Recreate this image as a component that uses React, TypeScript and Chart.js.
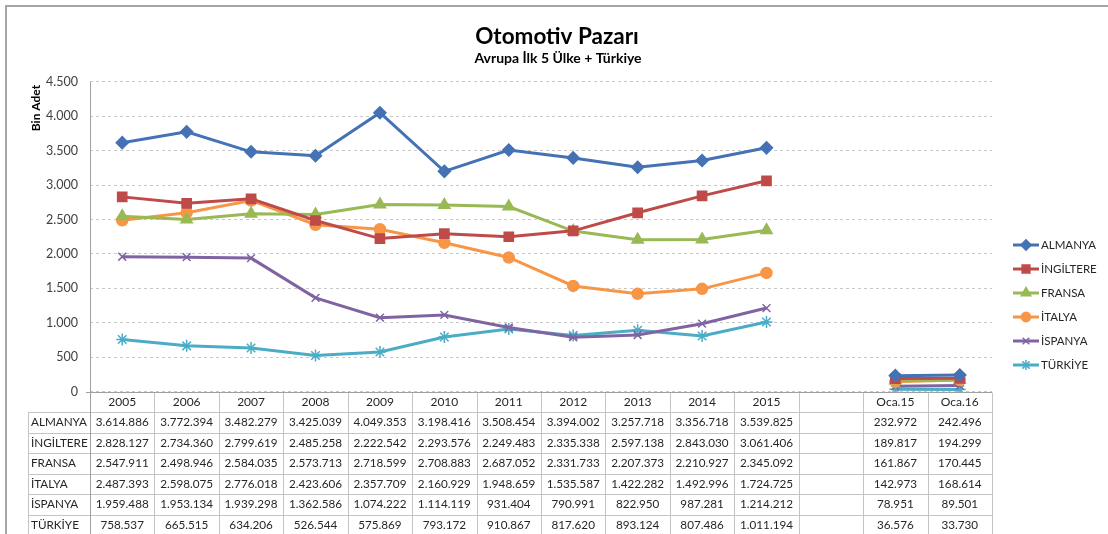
import { useEffect, useRef } from "react";
import { Chart, registerables } from "chart.js";
import { drawPoint } from "chart.js/helpers";

Chart.register(...registerables);

const categories = ["2005", "2006", "2007", "2008", "2009", "2010", "2011", "2012", "2013", "2014", "2015", "", "Oca.15", "Oca.16"];

const almanya = [3614.886, 3772.394, 3482.279, 3425.039, 4049.353, 3198.416, 3508.454, 3394.002, 3257.718, 3356.718, 3539.825, null, 232.972, 242.496];
const ingiltere = [2828.127, 2734.36, 2799.619, 2485.258, 2222.542, 2293.576, 2249.483, 2335.338, 2597.138, 2843.03, 3061.406, null, 189.817, 194.299];
const fransa = [2547.911, 2498.946, 2584.035, 2573.713, 2718.599, 2708.883, 2687.052, 2331.733, 2207.373, 2210.927, 2345.092, null, 161.867, 170.445];
const italya = [2487.393, 2598.075, 2776.018, 2423.606, 2357.709, 2160.929, 1948.659, 1535.587, 1422.282, 1492.996, 1724.725, null, 142.973, 168.614];
const ispanya = [1959.488, 1953.134, 1939.298, 1362.586, 1074.222, 1114.119, 931.404, 790.991, 822.95, 987.281, 1214.212, null, 78.951, 89.501];
const turkiye = [758.537, 665.515, 634.206, 526.544, 575.869, 793.172, 910.867, 817.62, 893.124, 807.486, 1011.194, null, 36.576, 33.73];

const seriesNames = ["ALMANYA", "İNGİLTERE", "FRANSA", "İTALYA", "İSPANYA", "TÜRKİYE"];
const seriesValues = [almanya, ingiltere, fransa, italya, ispanya, turkiye];
const seriesColors = ["#4472B4", "#BE4B48", "#98B954", "#F79646", "#8064A2", "#4BACC6"];
const seriesMarkers = ["rectRot", "rect", "triangle", "circle", "crossRot", "star"];
const markerSizes = [6, 6.5, 6.5, 5.5, 5.5, 6];

const titleText = "Otomotiv Pazarı";
const subtitleText = "Avrupa İlk 5 Ülke + Türkiye";
const yAxisTitle = "Bin Adet";

const FONT = "Lato, 'Open Sans', sans-serif";

function fmtThousands(n: number): string {
  return Math.round(n).toString().replace(/\B(?=(\d{3})+(?!\d))/g, ".");
}
function fmtValue(v: number): string {
  return fmtThousands(v * 1000);
}

const decorPlugin = {
  id: "decor",
  afterDraw(chart: any) {
    const ctx = chart.ctx as CanvasRenderingContext2D;
    const area = chart.chartArea;
    const xs = chart.scales.x;
    const n = categories.length;
    const colW = (xs.right - xs.left) / n;
    const px = (v: number) => Math.round(v) + 0.5;

    ctx.save();
    // outer frame
    ctx.strokeStyle = "#a6a6a6";
    ctx.lineWidth = 2;
    ctx.beginPath();
    ctx.moveTo(6, 534);
    ctx.lineTo(6, 6);
    ctx.lineTo(1108, 6);
    ctx.stroke();

    // titles
    ctx.fillStyle = "#000000";
    ctx.textAlign = "center";
    ctx.textBaseline = "middle";
    ctx.font = `bold 22.5px ${FONT}`;
    ctx.fillText(titleText, 557, 37);
    ctx.font = `bold 14px ${FONT}`;
    ctx.fillText(subtitleText, 558, 58);

    // y axis title
    ctx.save();
    ctx.translate(36, 108);
    ctx.rotate(-Math.PI / 2);
    ctx.font = `bold 12px ${FONT}`;
    ctx.fillText(yAxisTitle, 0, 0);
    ctx.restore();

    // data table
    const top = area.bottom;
    const headerH = 20.3;
    const rowH = 20.5;
    const labelLeft = 28;
    const bottom = top + headerH + seriesNames.length * rowH;

    ctx.strokeStyle = "#c4c4c4";
    ctx.lineWidth = 1;
    ctx.beginPath();
    for (let i = 0; i <= seriesNames.length; i++) {
      const y = px(top + headerH + i * rowH);
      ctx.moveTo(labelLeft, y);
      ctx.lineTo(xs.right, y);
    }
    for (let k = 1; k <= n; k++) {
      const x = px(xs.left + k * colW);
      ctx.moveTo(x, px(top));
      ctx.lineTo(x, bottom);
    }
    ctx.moveTo(px(labelLeft), px(top + headerH));
    ctx.lineTo(px(labelLeft), bottom);
    ctx.stroke();

    // axis lines
    ctx.strokeStyle = "#a0a0a0";
    ctx.beginPath();
    ctx.moveTo(xs.left - 4, px(top));
    ctx.lineTo(xs.right, px(top));
    ctx.moveTo(px(xs.left), area.top);
    ctx.lineTo(px(xs.left), bottom);
    ctx.stroke();

    ctx.fillStyle = "#262626";
    ctx.font = `11.7px ${FONT}`;
    ctx.textBaseline = "middle";
    seriesNames.forEach((name, i) => {
      const y = top + headerH + (i + 0.5) * rowH;
      ctx.textAlign = "left";
      ctx.fillText(name, 31, y);
      ctx.textAlign = "center";
      seriesValues[i].forEach((v, k) => {
        if (v === null) return;
        ctx.fillText(fmtValue(v as number), xs.getPixelForValue(k), y);
      });
    });

    // legend
    const lx = 1013;
    const ly0 = 245;
    const lstep = 24;
    seriesNames.forEach((name, i) => {
      const y = ly0 + i * lstep;
      ctx.strokeStyle = seriesColors[i];
      ctx.fillStyle = seriesColors[i];
      ctx.lineWidth = 3;
      ctx.beginPath();
      ctx.moveTo(lx, y);
      ctx.lineTo(lx + 26, y);
      ctx.stroke();
      ctx.lineWidth = 1.5;
      drawPoint(ctx, { pointStyle: seriesMarkers[i], radius: markerSizes[i] * 0.85, borderWidth: 1.5, rotation: 0 } as any, lx + 13, y);
      ctx.fillStyle = "#262626";
      ctx.font = `11.5px ${FONT}`;
      ctx.textAlign = "left";
      ctx.textBaseline = "middle";
      ctx.fillText(name, lx + 28, y + 0.5);
    });
    ctx.restore();
  },
};

export default function App() {
  const ref = useRef<HTMLCanvasElement | null>(null);

  useEffect(() => {
    if (!ref.current) return;
    const chart = new Chart(ref.current, {
      type: "line",
      data: {
        labels: categories,
        datasets: seriesNames.map((name, i) => ({
          label: name,
          data: seriesValues[i],
          borderColor: seriesColors[i],
          backgroundColor: seriesColors[i],
          borderWidth: 3,
          pointStyle: seriesMarkers[i] as any,
          pointRadius: markerSizes[i],
          pointBorderWidth: 1.5,
          pointBorderColor: seriesColors[i],
          pointBackgroundColor: seriesColors[i],
          tension: 0,
          spanGaps: false,
        })),
      },
      options: {
        responsive: false,
        maintainAspectRatio: false,
        animation: false,
        layout: { padding: { left: 0, right: 116, top: 81.7, bottom: 0 } },
        plugins: {
          legend: { display: false },
          title: { display: false },
          tooltip: { enabled: false },
        },
        scales: {
          x: {
            type: "category",
            offset: true,
            grid: { display: false, drawTicks: false },
            border: { display: false },
            ticks: {
              color: "#262626",
              font: { family: FONT, size: 12 },
              padding: 3,
              maxRotation: 0,
              autoSkip: false,
            },
            afterFit: (s: any) => {
              s.height = 534 - 391.7;
            },
          },
          y: {
            min: 0,
            max: 4500,
            grid: { color: "#c8c8c8", drawTicks: false, lineWidth: 1 },
            border: { display: false, dash: [3, 3] },
            ticks: {
              stepSize: 500,
              padding: 12,
              color: "#404040",
              font: { family: FONT, size: 12.5 },
              callback: (v: any) => fmtThousands(Number(v)),
            },
            afterFit: (s: any) => {
              s.width = 90;
            },
          },
        },
      },
      plugins: [decorPlugin],
    });
    return () => chart.destroy();
  }, []);

  return (
    <div style={{ position: "fixed", left: 0, top: 0, width: 1108, height: 534, background: "#ffffff" }}>
      <canvas ref={ref} width={1108} height={534} style={{ display: "block", width: 1108, height: 534 }} />
    </div>
  );
}
